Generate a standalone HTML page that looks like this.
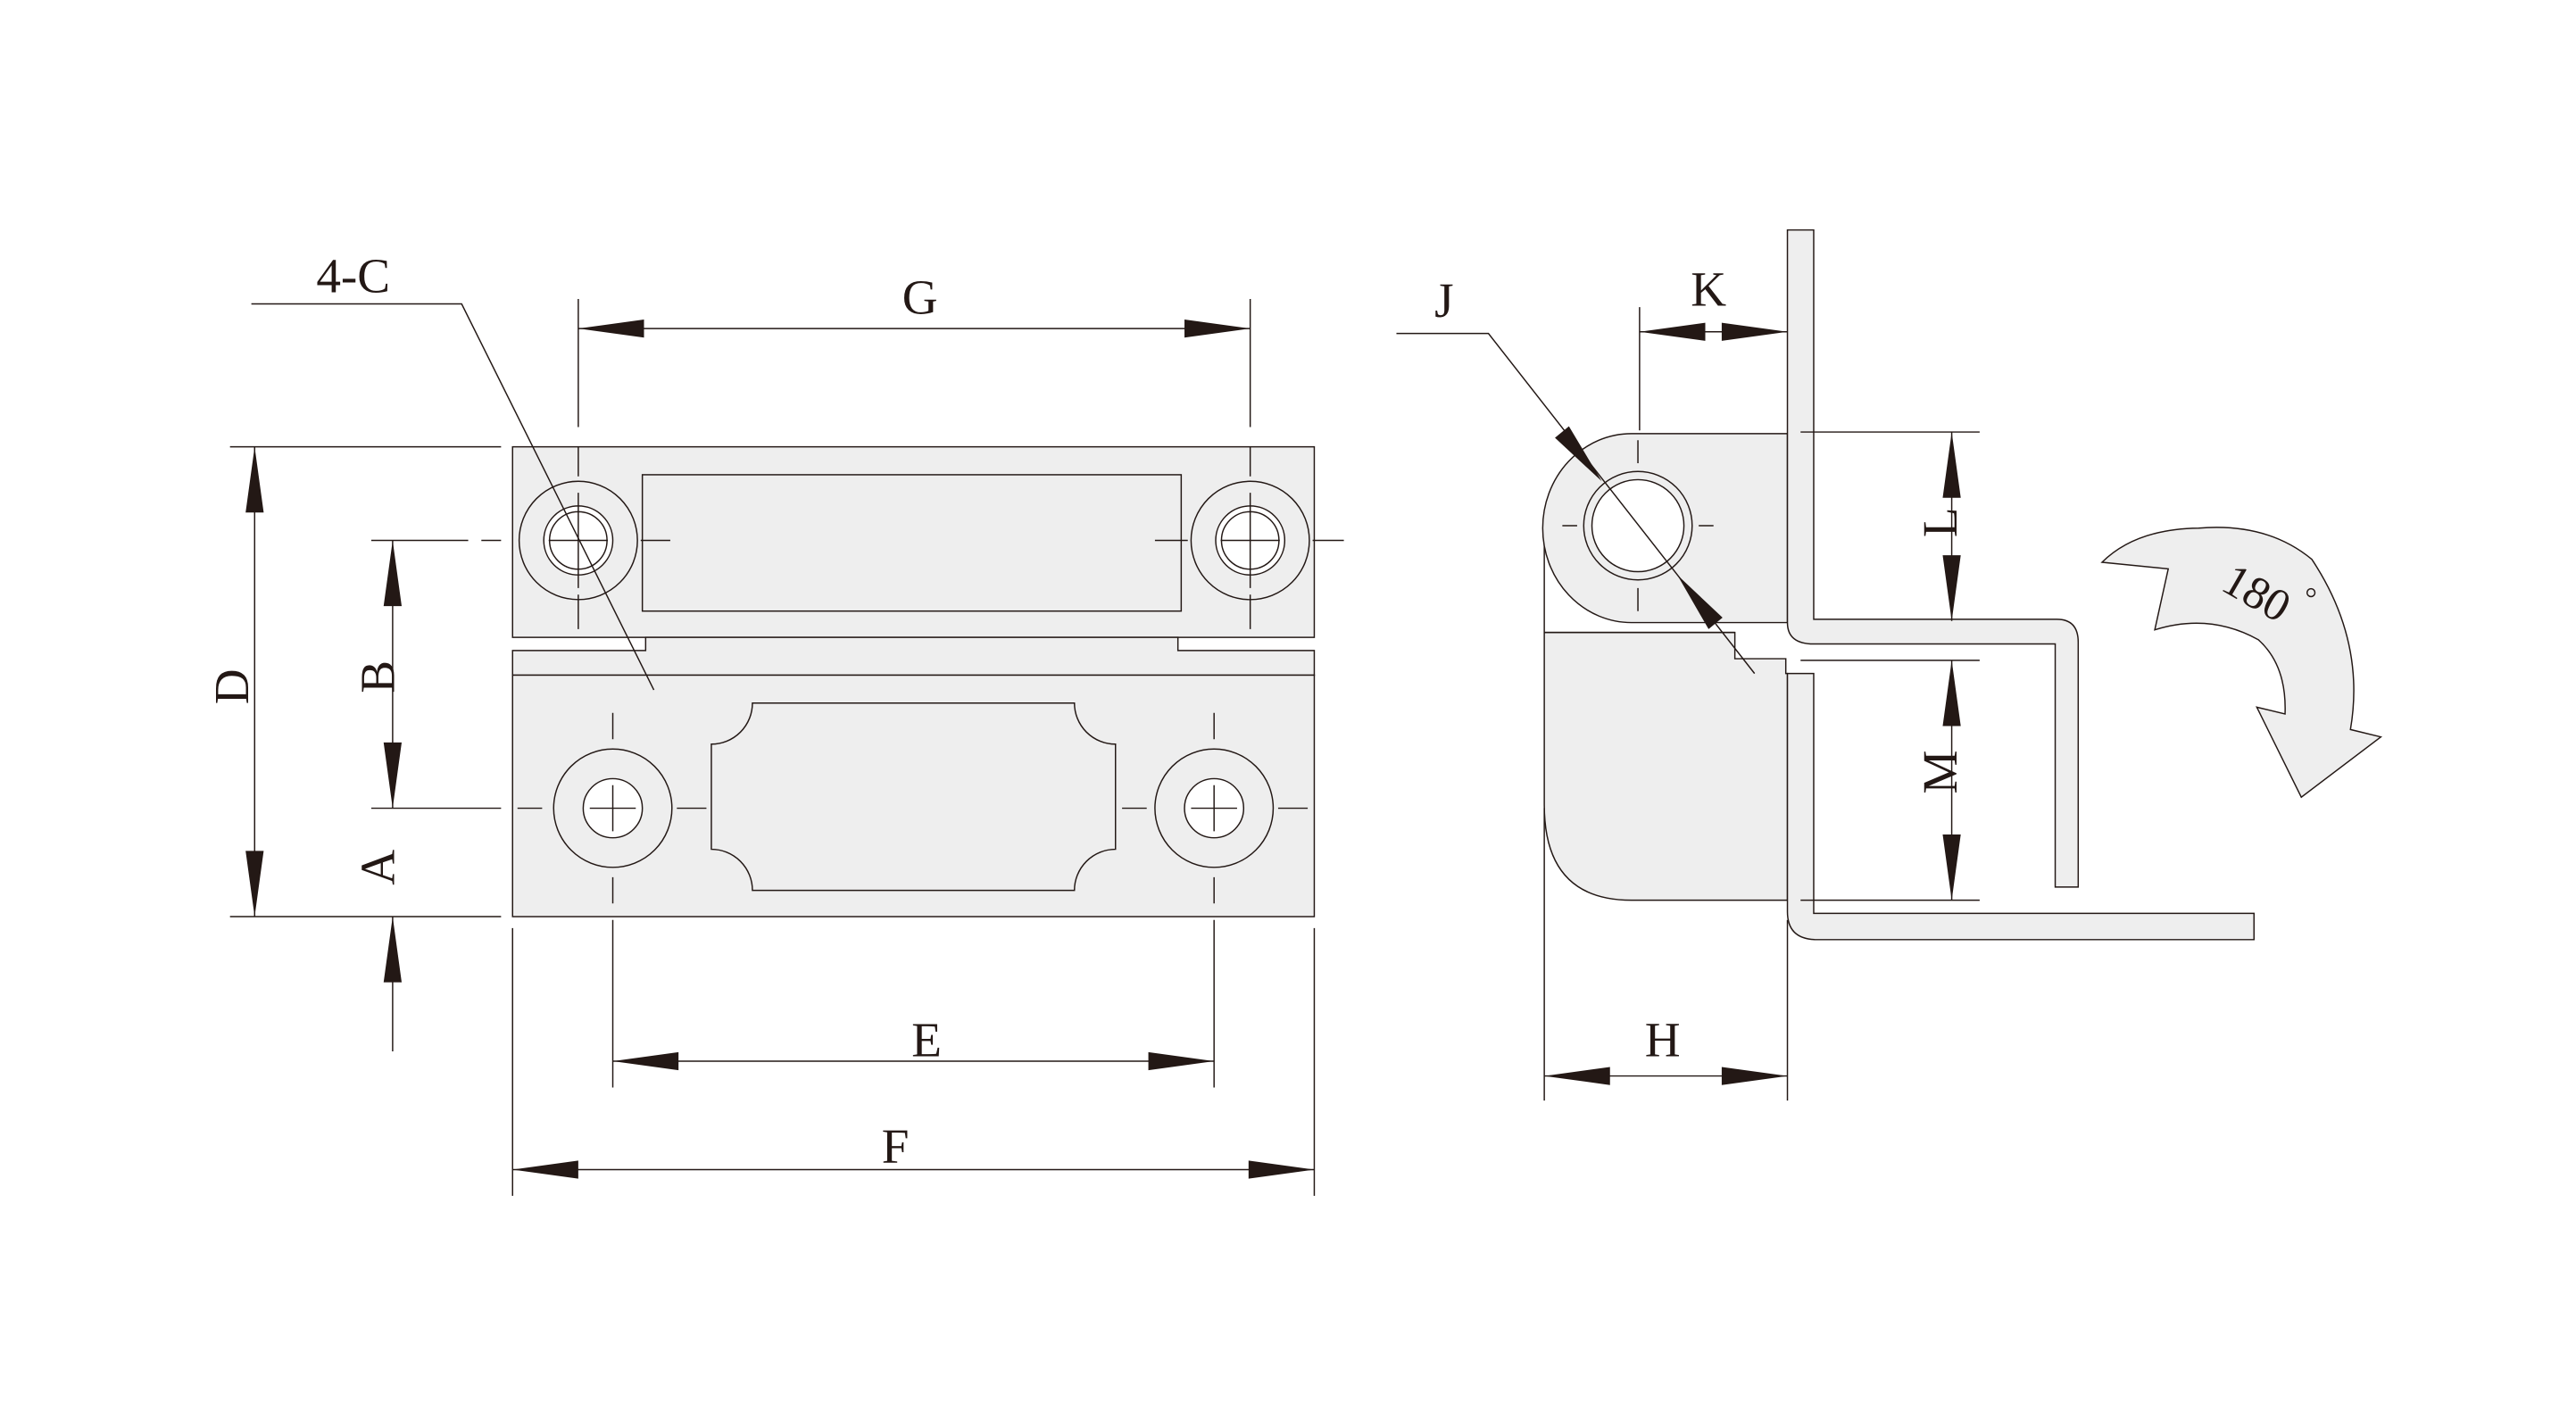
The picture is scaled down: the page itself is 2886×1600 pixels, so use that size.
<!DOCTYPE html>
<html><head><meta charset="utf-8"><style>
html,body{margin:0;padding:0;background:#fff}
svg{display:block}
text{font-family:"Liberation Serif",serif;fill:#231815}
</style></head><body>
<svg width="2886" height="1600" viewBox="0 0 1568 869.3" preserveAspectRatio="none" xmlns="http://www.w3.org/2000/svg">
<g fill="none" stroke="#231815" stroke-width="0.8">
<!-- LEFT VIEW plates -->
<rect x="312" y="272" width="488" height="116" fill="#eeeeee"/>
<path d="M312,396 H393 V388 H717 V396 H800 V411 H312 Z" fill="#eeeeee"/>
<rect x="312" y="411" width="488" height="147" fill="#eeeeee"/>
<rect x="391" y="289" width="328" height="83"/>
<path d="M458,428 H654 A25,25 0 0 0 679,453 V517 A25,25 0 0 0 654,542 H458 A25,25 0 0 0 433,517 V453 A25,25 0 0 0 458,428 Z"/>
<!-- top holes -->
<circle cx="352" cy="329" r="36"/>
<circle cx="352" cy="329" r="21" fill="#fff"/>
<circle cx="352" cy="329" r="17.5"/>
<circle cx="761" cy="329" r="36"/>
<circle cx="761" cy="329" r="21" fill="#fff"/>
<circle cx="761" cy="329" r="17.5"/>
<!-- bottom holes -->
<circle cx="373" cy="492" r="36"/>
<circle cx="373" cy="492" r="18" fill="#fff"/>
<circle cx="739" cy="492" r="36"/>
<circle cx="739" cy="492" r="18" fill="#fff"/>
<!-- centerlines -->
<path d="M226,329 H285 M293,329 H305 M334,329 H370 M390,329 H408 M352,300 V358 M352,362 V383 M352,272 V290"/>
<path d="M703,329 H723 M743,329 H779 M799,329 H818 M761,300 V358 M761,362 V383 M761,272 V290"/>
<path d="M226,492 H305 M315,492 H330 M359,492 H387 M412,492 H430 M373,434 V450 M373,478 V506 M373,534 V550"/>
<path d="M683,492 H698 M725,492 H753 M778,492 H796 M739,434 V450 M739,478 V506 M739,534 V550"/>
<!-- dimension lines left -->
<path d="M140,272 H305 M140,558 H305 M155,272 V558"/>
<path d="M239,329 V492 M239,558 V640"/>
<path d="M352,182 V260 M761,182 V260 M352,200 H761"/>
<path d="M373,560 V662 M739,560 V662 M373,646 H739"/>
<path d="M312,565 V728 M800,565 V728 M312,712 H800"/>
<path d="M153,185 H281 L398,420"/>
<!-- RIGHT VIEW -->
<path d="M940,318 V490 Q940,548 993,548 H1088 V410 H1087 V401 H1056 V385 H940 Z" fill="#eeeeee"/>
<path d="M993,264 H1088 V379 H993 A54,57.5 0 0 1 993,264 Z" fill="#eeeeee"/>
<path d="M940,385 H1056"/>
<circle cx="997" cy="320" r="33"/>
<circle cx="997" cy="320" r="28" fill="#fff"/>
<path d="M951,320 H960 M1034,320 H1043 M997,268 V282 M997,358 V372"/>
<path d="M1088,140 H1104 V377 H1252 Q1265,377 1265,391 V540 H1251 V392 H1104 Q1088,392 1088,379 Z" fill="#eeeeee"/>
<path d="M1088,410 H1104 V556 H1372 V572 H1106 Q1088,572 1088,555 Z" fill="#eeeeee"/>
<!-- right dims -->
<path d="M998,187 V262 M998,202 H1088"/>
<path d="M850,203 H906 L1068,410"/>
<path d="M1096,263 H1205 M1188,263 V378 M1096,402 H1205 M1096,548 H1205 M1188,402 V548"/>
<path d="M940,492 V670 M1088,560 V670 M940,655 H1088"/>
<!-- 180 arrow -->
<path d="M1279.5,342.3 L1319.8,346.3 L1311.6,383.4 Q1345,373 1374.6,389.4 Q1392,405 1390.9,434.6 L1373.7,430.5 L1400.8,485.3 L1449.2,448.6 L1430.7,444.1 Q1440,390 1407.2,340.5 Q1380,318 1338.3,321.5 Q1300,322 1279.5,342.3 Z" fill="#eeeeee"/>
<circle cx="1406.7" cy="360.8" r="2.4"/>
</g>
<g fill="#231815" stroke="none">
<polygon points="155,272 149.5,312 160.5,312"/>
<polygon points="155,558 149.5,518 160.5,518"/>
<polygon points="239,329 233.5,369 244.5,369"/>
<polygon points="239,492 233.5,452 244.5,452"/>
<polygon points="239,558 233.5,598 244.5,598"/>
<polygon points="352,200 392,194.5 392,205.5"/>
<polygon points="761,200 721,194.5 721,205.5"/>
<polygon points="373,646 413,640.5 413,651.5"/>
<polygon points="739,646 699,640.5 699,651.5"/>
<polygon points="312,712 352,706.5 352,717.5"/>
<polygon points="800,712 760,706.5 760,717.5"/>
<polygon points="998,202 1038,196.5 1038,207.5"/>
<polygon points="1088,202 1048,196.5 1048,207.5"/>
<polygon points="1188,263 1182.5,303 1193.5,303"/>
<polygon points="1188,378 1182.5,338 1193.5,338"/>
<polygon points="1188,402 1182.5,442 1193.5,442"/>
<polygon points="1188,548 1182.5,508 1193.5,508"/>
<polygon points="940,655 980,649.5 980,660.5"/>
<polygon points="1088,655 1048,649.5 1048,660.5"/>
<polygon points="975,293 955,259.5 946.5,266.5"/>
<polygon points="1021,350 1048.5,376 1040,383"/>
</g>
<g font-size="30" text-anchor="middle">
<text x="215" y="178">4-C</text>
<text x="560" y="191">G</text>
<text x="564" y="643">E</text>
<text x="545" y="708">F</text>
<text transform="translate(151,418) rotate(-90)">D</text>
<text transform="translate(240,412) rotate(-90)">B</text>
<text transform="translate(240,528) rotate(-90)">A</text>
<text x="879" y="193">J</text>
<text x="1040" y="186">K</text>
<text transform="translate(1191,318) rotate(-90)">L</text>
<text transform="translate(1191,470) rotate(-90)">M</text>
<text x="1012" y="643">H</text>
<text font-size="28" transform="translate(1369,369) rotate(30)">180</text>
</g>
</svg>
</body></html>
